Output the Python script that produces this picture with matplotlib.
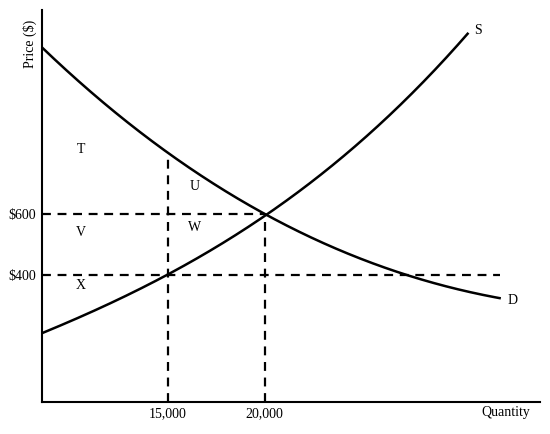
import matplotlib
matplotlib.use("Agg")
import matplotlib.pyplot as plt
import numpy as np

plt.rcParams['font.family'] = ['Liberation Serif', 'DejaVu Serif']

d_q = [8500, 11490, 15000, 17676, 20000, 23350, 26955, 29530, 32110]
d_p = [1144, 984, 793, 685, 600, 505, 400, 361, 325]
s_q = [8500, 11490, 15000, 17680, 20000, 23350, 26955, 29020, 30460]
s_p = [210, 292, 400, 489, 600, 770, 941, 1079, 1203]
x_ticks = [15000, 20000]
x_labels = ['15,000', '20,000']
y_ticks = [400, 600]
y_labels = ['$400', '$600']
areas = {'T': (10500, 810), 'U': (16400, 690), 'V': (10500, 540), 'W': (16400, 555), 'X': (10500, 365)}

fig = plt.figure(figsize=(5.5, 4.34), dpi=100)
ax = fig.add_axes([0.076, 0.074, 0.905, 0.903])
ax.set_xlim(8500, 34170)
ax.set_ylim(-16, 1269)

def smooth(q, p):
    qq = np.linspace(q[0], q[-1], 300)
    c = np.polyfit(q, p, 3)
    return qq, np.polyval(c, qq)

ax.plot(*smooth(d_q, d_p), color='black', lw=1.8)
ax.plot(*smooth(s_q, s_p), color='black', lw=1.8)

dash = dict(color='black', lw=1.6, ls=(0, (4, 3)))
ax.plot([8500, 20000], [600, 600], **dash)
ax.plot([8500, 32110], [400, 400], **dash)
ax.plot([15000, 15000], [-16, 793], **dash)
ax.plot([20000, 20000], [-16, 600], **dash)

for k, (x, y) in areas.items():
    ax.text(x, y, k, fontsize=10, ha='center', va='center')
ax.text(30800, 1203, 'S', fontsize=10, ha='left', va='center')
ax.text(32500, 318, 'D', fontsize=10, ha='left', va='center')

ax.set_xticks(x_ticks, x_labels, fontsize=10)
ax.set_yticks(y_ticks, y_labels, fontsize=10)
ax.tick_params(length=0, pad=4)
for s in ['top', 'right']:
    ax.spines[s].set_visible(False)
for s in ['left', 'bottom']:
    ax.spines[s].set_linewidth(1.5)
fig.text(0.92, 0.05, 'Quantity', fontsize=10, ha='center', va='center')
fig.text(0.055, 0.9, 'Price ($)', fontsize=10, rotation=90, ha='center', va='center')
fig.savefig('out.png', dpi=100)
